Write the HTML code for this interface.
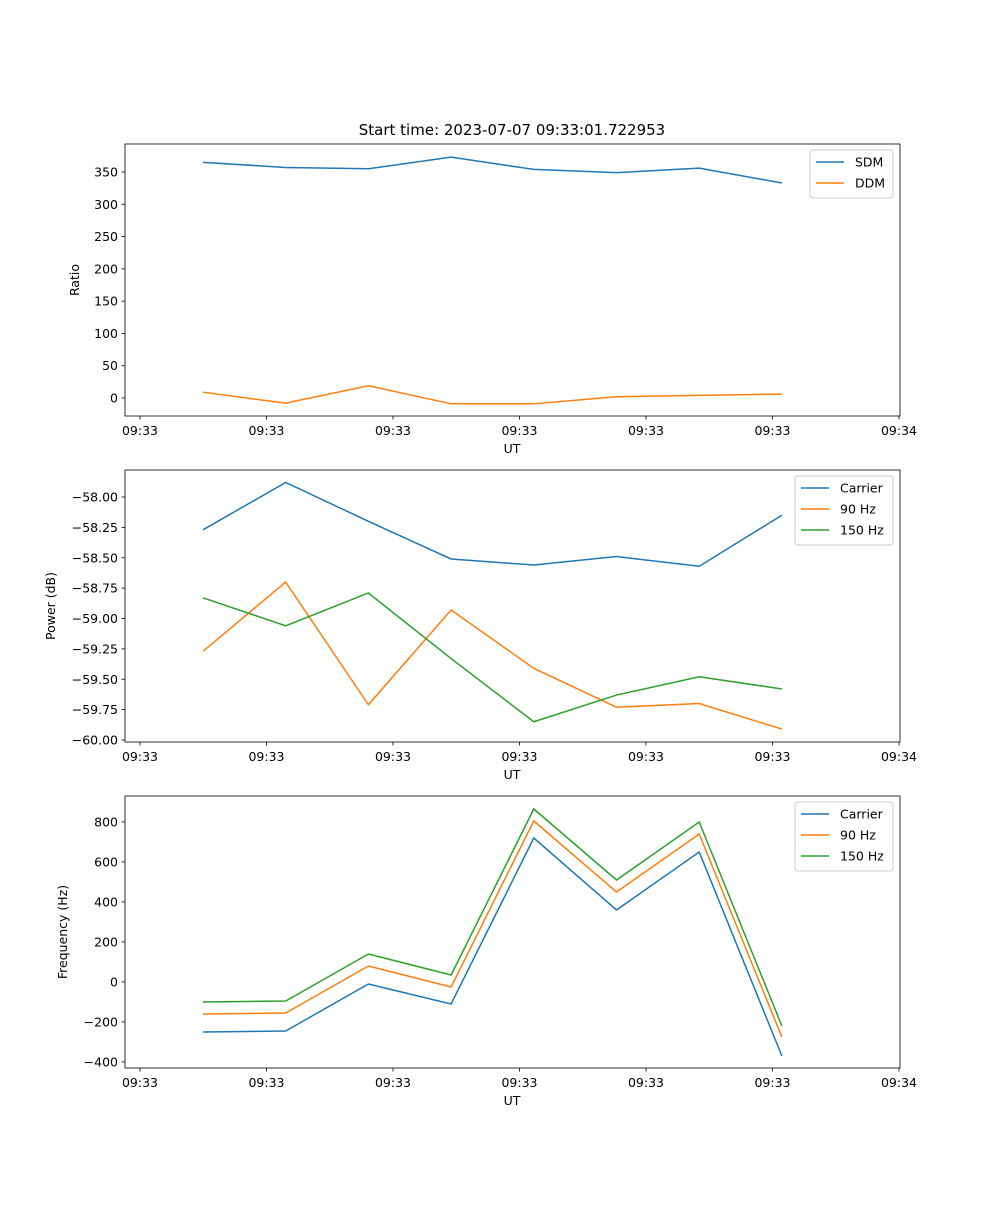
<!DOCTYPE html>
<html><head><meta charset="utf-8"><style>
body{margin:0;background:#fff}
svg text{font-family:"DejaVu Sans","Liberation Sans",sans-serif;font-size:12.5px;fill:#000}
</style></head><body>
<svg id="fig" width="1000" height="1200" xmlns="http://www.w3.org/2000/svg"></svg>
<script>
const xTickLabels = ["09:33","09:33","09:33","09:33","09:33","09:33","09:34"];
const xIndex = [0,1,2,3,4,5,6,7];
const sdm = [365,357,355,373,354,349,356,333];
const ddm = [9,-8,19,-9,-9,2,4,6];
const powCarrier = [-58.27,-57.88,-58.20,-58.51,-58.56,-58.49,-58.57,-58.15];
const pow90 = [-59.27,-58.70,-59.71,-58.93,-59.41,-59.73,-59.70,-59.91];
const pow150 = [-58.83,-59.06,-58.79,-59.33,-59.85,-59.63,-59.48,-59.58];
const freqCarrier = [-250,-245,-10,-110,720,360,650,-370];
const freq90 = [-160,-155,80,-25,805,450,740,-275];
const freq150 = [-100,-95,140,35,865,510,800,-220];
const ticks1 = [0,50,100,150,200,250,300,350];
const ticks2 = [-60.00,-59.75,-59.50,-59.25,-59.00,-58.75,-58.50,-58.25,-58.00];
const ticks3 = [-400,-200,0,200,400,600,800];

const NS="http://www.w3.org/2000/svg";
const svg=document.getElementById('fig');
function mk(tag,attrs,parent){const e=document.createElementNS(NS,tag);for(const k in attrs)e.setAttribute(k,attrs[k]);(parent||svg).appendChild(e);return e;}
const L=125,R=900;
const xPx=i=>203+i*82.7;
const xTickPx=k=>140+k*126.5;
const C=["#1f77b4","#ff7f0e","#2ca02c"];

function panel(name,top,bot,y0v,y0p,y1v,y1p,ticks,fmt,series,labels,ylabel,legX,legW){
  const g=mk('g',{});
  
  
  const yPx=v=>y0p+(v-y0v)*(y1p-y0p)/(y1v-y0v);
  ticks.forEach(t=>{const y=yPx(t);
    const l=mk('line',{x1:L-3.5,x2:L,y1:y,y2:y,stroke:'#000','stroke-width':0.8},g);
    
    const tx=mk('text',{x:L-7,y:y+4.5,'text-anchor':'end'},g);tx.textContent=fmt(t);
    });
  xTickLabels.forEach((lab,k)=>{const x=xTickPx(k);
    const l=mk('line',{x1:x,x2:x,y1:bot,y2:bot+3.5,stroke:'#000','stroke-width':0.8},g);
    
    const tx=mk('text',{x:x,y:bot+19,'text-anchor':'middle'},g);tx.textContent=lab;
    });
  series.forEach((s,si)=>{
    const p=mk('polyline',{points:s.map((v,i)=>xPx(xIndex[i])+','+yPx(v)).join(' '),fill:'none',stroke:C[si],'stroke-width':1.5},g);
    });
  const fr=mk('rect',{x:L,y:top,width:R-L,height:bot-top,fill:'none',stroke:'#000','stroke-width':0.8},g);
  
  const xl=mk('text',{x:512,y:bot+37,'text-anchor':'middle'},g);xl.textContent='UT';
  
  const yc=(top+bot)/2;
  const yl=mk('text',{x:0,y:0,'text-anchor':'middle',transform:`translate(${ylabel[1]},${yc}) rotate(-90)`},g);yl.textContent=ylabel[0];
  
  const lg=mk('g',{},g);
  
  const lh=labels.length*21+6;
  mk('rect',{x:legX,y:top+6,width:legW,height:lh,rx:3,fill:'#fff','fill-opacity':0.8,stroke:'#ccc','stroke-width':1},lg);
  labels.forEach((lab,i)=>{const y=top+18+i*21;
    const e=mk('g',{},lg);
    mk('line',{x1:legX+6,x2:legX+34,y1:y,y2:y,stroke:C[i],'stroke-width':1.5},e);
    const t=mk('text',{x:legX+45,y:y+4.5},e);t.textContent=lab;});
}
panel('ratio-panel',144,416,0,398,350,172,ticks1,v=>String(v),[sdm,ddm],['SDM','DDM'],['Ratio',79],810,83);
panel('power-panel',470,742,-58,497,-60,740,ticks2,v=>'\u2212'.concat(Math.abs(v).toFixed(2)),[powCarrier,pow90,pow150],['Carrier','90 Hz','150 Hz'],['Power (dB)',55],795,98);
panel('frequency-panel',796,1068,800,822,-400,1062,ticks3,v=>v<0?'\u2212'+Math.abs(v):String(v),[freqCarrier,freq90,freq150],['Carrier','90 Hz','150 Hz'],['Frequency (Hz)',67],795,98);
const title=mk('text',{x:512,y:135,'text-anchor':'middle'});
title.textContent='Start time: 2023-07-07 09:33:01.722953';
title.setAttribute('style','font-size:15px');


</script>
</body></html>
